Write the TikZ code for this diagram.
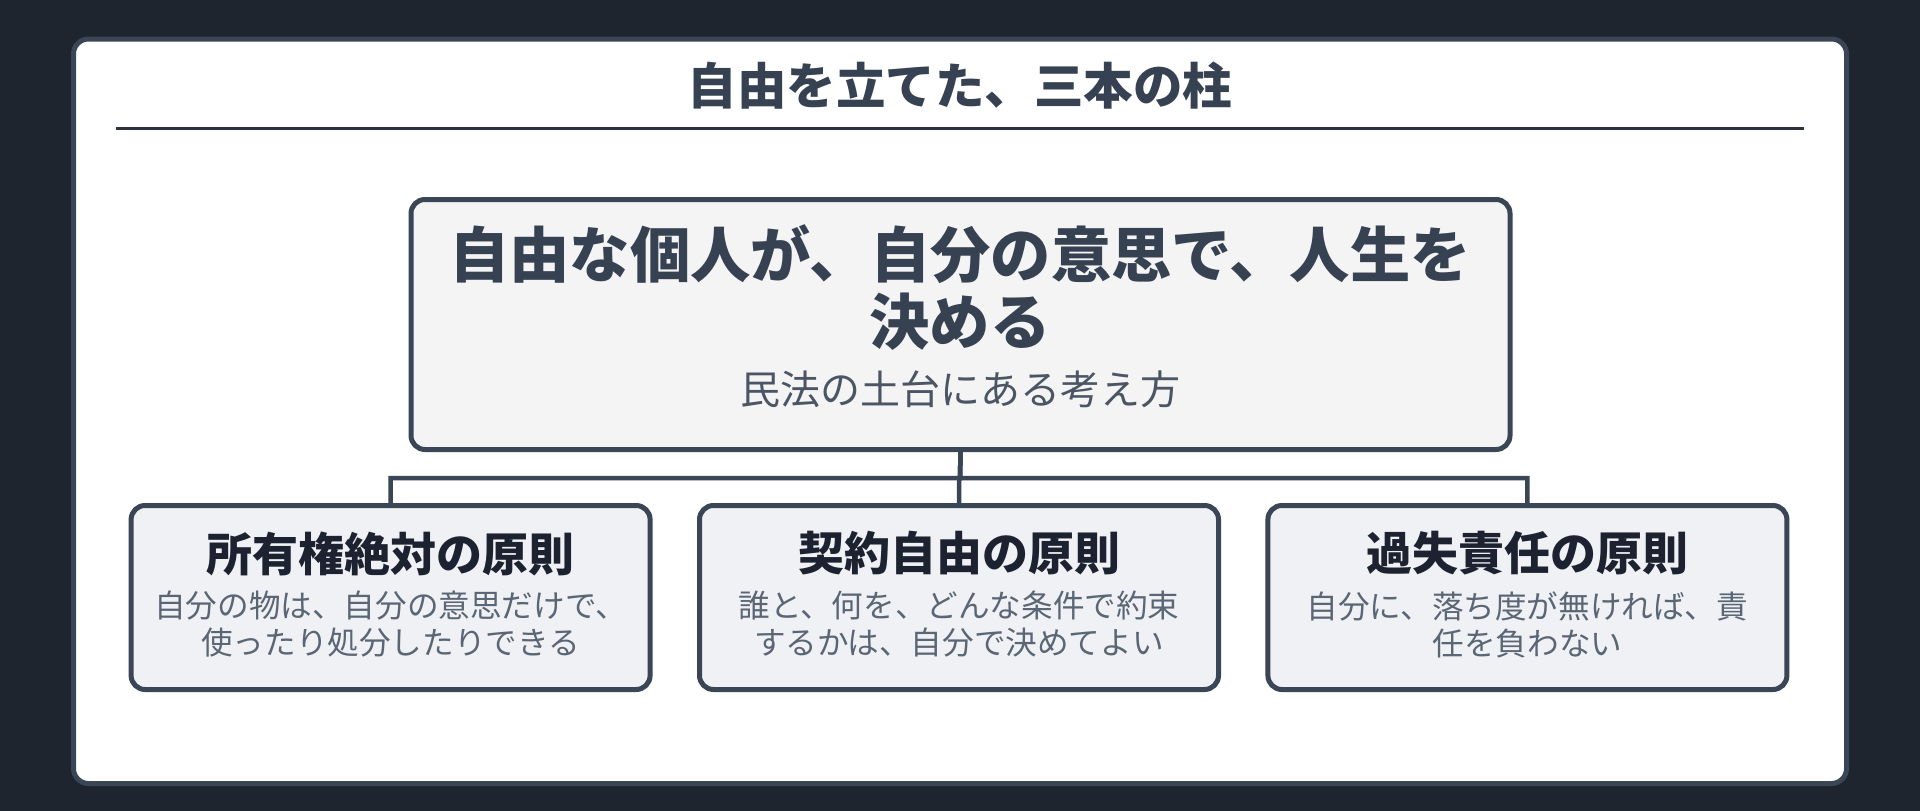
\documentclass[tikz,border=0pt]{standalone}
\usepackage{fontspec}
\setmainfont{Noto Sans CJK JP}
\newfontfamily\jp{Noto Sans CJK JP}
\usetikzlibrary{arrows.meta}
\definecolor{bgdark}{HTML}{1E252F}
\definecolor{edge}{HTML}{3A4556}
\definecolor{ruleclr}{HTML}{2B3340}
\definecolor{titleclr}{HTML}{364152}
\definecolor{mainfill}{HTML}{F4F4F5}
\definecolor{boxfill}{HTML}{EFF1F5}
\definecolor{subclr}{HTML}{4B5563}
\definecolor{headclr}{HTML}{1C2230}
\definecolor{bodyclr}{HTML}{5B6675}
\tikzset{
  card/.style={draw=edge, line width=5pt, fill=white, rounded corners=15pt},
  mainbox/.style={draw=edge, line width=5pt, fill=mainfill, rounded corners=14pt, minimum width=1099pt, minimum height=250pt, inner sep=0pt},
  pillar/.style={draw=edge, line width=5pt, fill=boxfill, rounded corners=14pt, minimum width=519pt, minimum height=184pt, inner sep=0pt},
  conn/.style={draw=edge, line width=4.5pt, -{Triangle[width=26pt,length=3pt]}, shorten >=-3pt},
  txt/.style={inner sep=0pt, align=center},
}
\begin{document}
\begin{tikzpicture}[x=1pt,y=-1pt]
\fill[bgdark] (0,0) rectangle (1920,811);
\useasboundingbox (0,0) rectangle (1920,811);
\draw[card] (73.5,39) rectangle (1846.5,783.5);
\node[txt, font=\jp\bfseries\fontsize{49.5}{55}\selectfont, text=titleclr] (title) at (960,86) {自由を立てた、三本の柱};
\draw[ruleclr, line width=2.5pt] (116,128.6) -- (1804,128.6);

\node[mainbox] (main) at (960.5,324.5) {};
\node[txt, font=\jp\bfseries\fontsize{60.3}{67}\selectfont, text=titleclr] (maintext) at (960,288) {自由な個人が、自分の意思で、人生を\\決める};
\node[txt, font=\jp\fontsize{40}{46}\selectfont, text=subclr] (mainsub) at (960,389) {民法の土台にある考え方};

\node[pillar] (b1) at (390.6,597.5) {};
\node[pillar] (b2) at (959,597.5) {};
\node[pillar] (b3) at (1527.4,597.5) {};

\node[txt, font=\jp\bfseries\fontsize{46}{52}\selectfont, text=headclr] (h1) at (390.6,553.5) {所有権絶対の原則};
\node[txt, font=\jp\bfseries\fontsize{46}{52}\selectfont, text=headclr] (h2) at (959,553.5) {契約自由の原則};
\node[txt, font=\jp\bfseries\fontsize{46}{52}\selectfont, text=headclr] (h3) at (1527.4,553.5) {過失責任の原則};

\node[txt, font=\jp\fontsize{31.6}{37}\selectfont, text=bodyclr] (t1) at (390.6,624.5) {自分の物は、自分の意思だけで、\\使ったり処分したりできる};
\node[txt, font=\jp\fontsize{31.6}{37}\selectfont, text=bodyclr] (t2) at (959,624.5) {誰と、何を、どんな条件で約束\\するかは、自分で決めてよい};
\node[txt, font=\jp\fontsize{31.6}{37}\selectfont, text=bodyclr] (t3) at (1527.4,624.5) {自分に、落ち度が無ければ、責\\任を負わない};

\coordinate (mid) at (960,478);
\draw[conn] (main.south) -- (mid) -| (b1.north);
\draw[conn] (main.south) -- (mid) -| (b2.north);
\draw[conn] (main.south) -- (mid) -| (b3.north);
\end{tikzpicture}
\end{document}
